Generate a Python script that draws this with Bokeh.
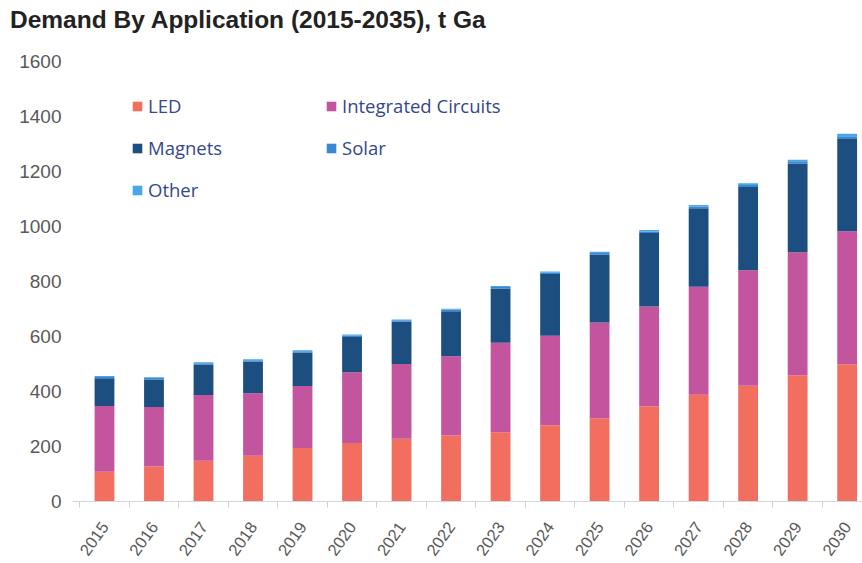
import math
from bokeh.plotting import figure
from bokeh.layouts import column
from bokeh.models import (ColumnDataSource, Range1d, FixedTicker, Legend, LegendItem, Div)
from bokeh.embed import file_html
from bokeh.resources import INLINE

years = [2015, 2016, 2017, 2018, 2019, 2020, 2021, 2022,
         2023, 2024, 2025, 2026, 2027, 2028, 2029, 2030]
led = [108, 127, 148, 166, 195, 213, 228, 240, 252, 277, 303, 346, 388, 421, 459, 499]
integrated_circuits = [239, 217, 239, 228, 225, 257, 272, 288, 325, 326, 348, 363, 393, 420, 447, 484]
magnets = [101, 100, 111, 115, 121, 128, 154, 164, 198, 224, 247, 267, 285, 303, 323, 335]
solar = [5, 5, 5, 5, 5, 5, 5, 5, 5, 5, 6, 6, 7, 7, 8, 10]
other = [3, 3, 3, 3, 4, 4, 3, 4, 4, 4, 4, 5, 5, 6, 6, 9]
series_names = ["LED", "Integrated Circuits", "Magnets", "Solar", "Other"]
colors = ["#f26e5e", "#c3559f", "#1d4e80", "#3a87d2", "#4aa6ea"]
y_ticks = [0, 200, 400, 600, 800, 1000, 1200, 1400, 1600]
title_text = "Demand By Application (2015-2035), t Ga"

source = ColumnDataSource(dict(year=years, LED=led,
                               IC=integrated_circuits, Magnets=magnets,
                               Solar=solar, Other=other))
keys = ["LED", "IC", "Magnets", "Solar", "Other"]

title_div = Div(
    text=('<div style="font-family:\'Liberation Sans\';font-size:24.5px;'
          'font-weight:bold;color:#222222;padding:6px 0 0 10px;'
          'line-height:normal;white-space:nowrap;">' + title_text + '</div>'),
    width=862, height=40, margin=(0, 0, 0, 0))

p = figure(width=862, height=523, output_backend="svg", toolbar_location=None,
           x_range=Range1d(2014.354, 2030.31), y_range=Range1d(0, 1600),
           min_border_left=72, min_border_right=0, min_border_top=21,
           min_border_bottom=60, margin=(0, 0, 0, 0))
p.outline_line_color = None
p.xgrid.grid_line_color = None
p.ygrid.grid_line_color = None

renderers = p.vbar_stack(keys, x="year", width=0.4, color=colors, source=source,
                         line_color=None)

# axes
xa = p.xaxis[0]
xa.ticker = FixedTicker(ticks=years, minor_ticks=[y + 0.5 for y in [2014] + years])
xa.major_tick_line_color = None
xa.minor_tick_line_color = "#c8d2da"
xa.minor_tick_in = 0
xa.minor_tick_out = 6
xa.axis_line_color = "#cfd8df"
xa.major_label_orientation = 0.96
xa.major_label_text_font = "Liberation Sans"
xa.major_label_text_font_size = "16.5px"
xa.major_label_text_color = "#595959"
xa.major_label_standoff = 16
xa.major_label_overrides = {y: str(y) for y in years}

ya = p.yaxis[0]
ya.ticker = FixedTicker(ticks=y_ticks)
ya.axis_line_color = None
ya.major_tick_line_color = None
ya.minor_tick_line_color = None
ya.major_label_text_font = "Liberation Sans"
ya.major_label_text_font_size = "19px"
ya.major_label_text_color = "#595959"
ya.major_label_standoff = 5

def make_legend(idx, loc):
    items = [LegendItem(label=series_names[i], renderers=[renderers[i]]) for i in idx]
    lg = Legend(items=items, location=loc, orientation="vertical",
                padding=0, margin=0, spacing=17, glyph_width=12, glyph_height=12,
                label_standoff=5, label_height=20,
                label_text_font="Open Sans", label_text_font_size="18.5px",
                label_text_color="#34478a", background_fill_alpha=0,
                border_line_color=None)
    return lg

p.add_layout(make_legend([0, 2, 4], (59, 299)))
p.add_layout(make_legend([1, 3], (253, 341)))

layout = column(title_div, p, spacing=0)
open("out.html", "w").write(file_html(layout, INLINE))
